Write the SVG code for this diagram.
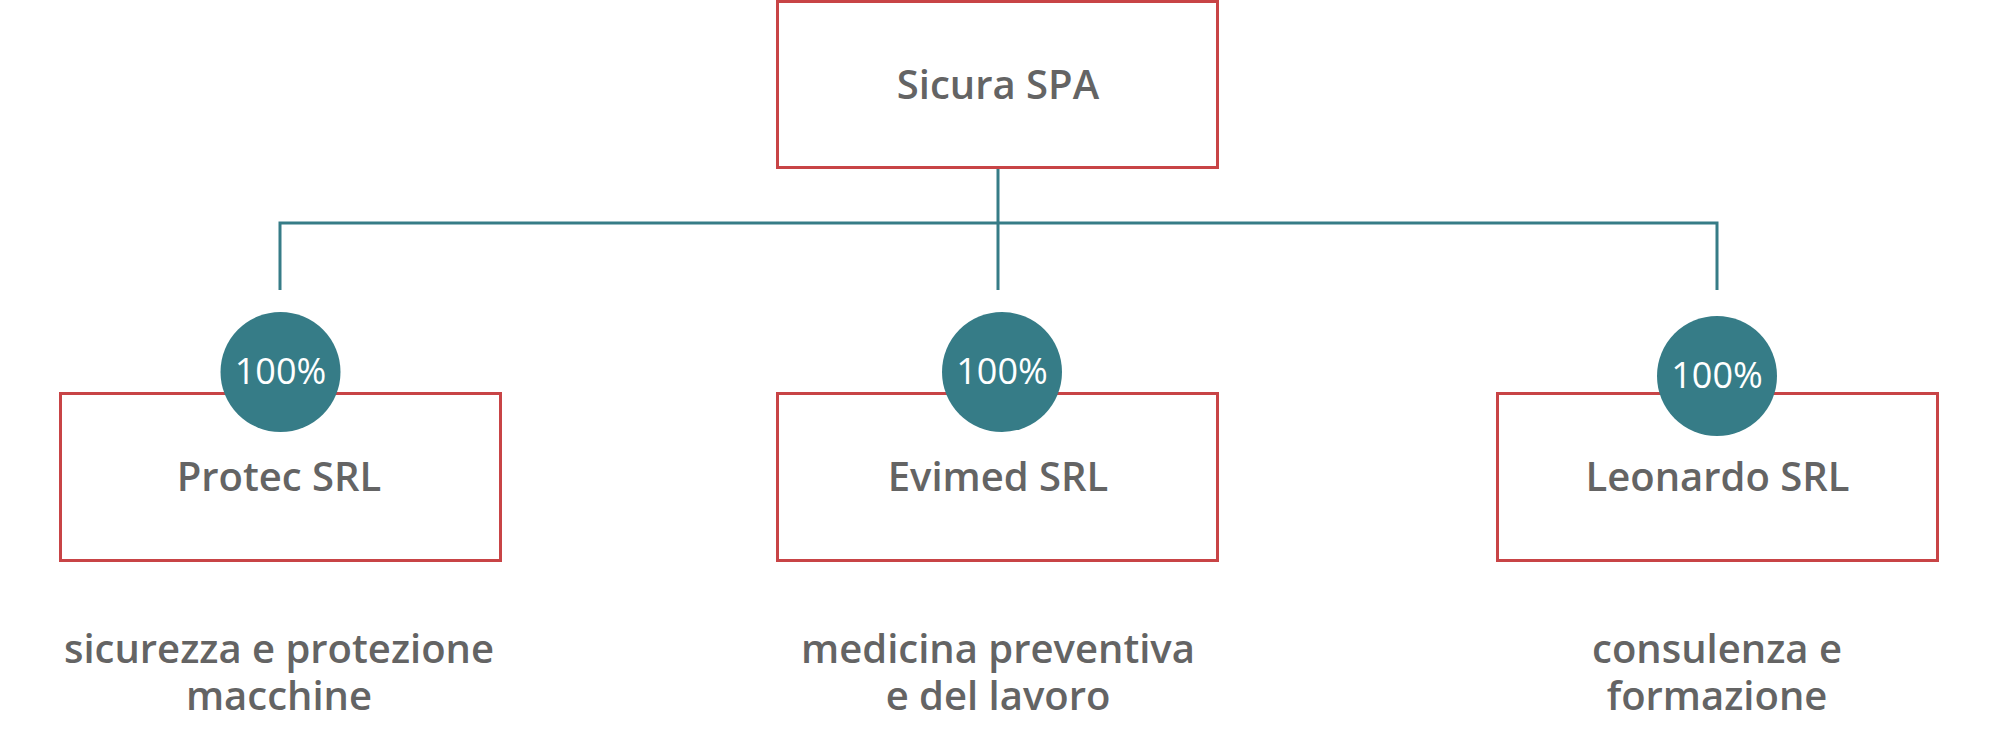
<svg xmlns="http://www.w3.org/2000/svg" width="1997" height="742" viewBox="0 0 1997 742">
<style>
.box{fill:#fff;stroke:#c84446;stroke-width:3}
.con{fill:none;stroke:#367c87;stroke-width:3}
.badge{fill:#367c87}
.name{font-family:"Open Sans","Liberation Sans",sans-serif;font-size:40px;font-weight:600;fill:#646464;text-anchor:middle}
.pct{font-family:"Open Sans","Liberation Sans",sans-serif;font-size:36px;font-weight:400;fill:#fff;text-anchor:middle}
.desc{font-family:"Open Sans","Liberation Sans",sans-serif;font-size:40px;font-weight:600;fill:#646464;text-anchor:middle}
</style>
<rect width="1997" height="742" fill="#fff"/>
<g id="connectors">
<path class="con" d="M998 168V223M280 290V223H1717V290M998 223V290"/>
</g>
<g id="sicura">
<rect class="box" x="777.5" y="1.5" width="440" height="166"/>
<text class="name" x="998" y="99">Sicura SPA</text>
</g>
<g id="protec">
<rect class="box" x="60.5" y="393.5" width="440" height="167"/>
<circle class="badge" cx="280.5" cy="372" r="60"/>
<text class="pct" x="280.5" y="384">100%</text>
<text class="name" x="279" y="491">Protec SRL</text>
<text class="desc"><tspan x="279" y="663">sicurezza e protezione</tspan><tspan x="279" y="710">macchine</tspan></text>
</g>
<g id="evimed">
<rect class="box" x="777.5" y="393.5" width="440" height="167"/>
<circle class="badge" cx="1002" cy="372" r="60"/>
<text class="pct" x="1002" y="384">100%</text>
<text class="name" x="998" y="491">Evimed SRL</text>
<text class="desc"><tspan x="998" y="663">medicina preventiva</tspan><tspan x="998" y="710">e del lavoro</tspan></text>
</g>
<g id="leonardo">
<rect class="box" x="1497.5" y="393.5" width="440" height="167"/>
<circle class="badge" cx="1717" cy="376" r="60"/>
<text class="pct" x="1717" y="388">100%</text>
<text class="name" x="1717.5" y="491">Leonardo SRL</text>
<text class="desc"><tspan x="1717" y="663">consulenza e</tspan><tspan x="1717" y="710">formazione</tspan></text>
</g>
</svg>
